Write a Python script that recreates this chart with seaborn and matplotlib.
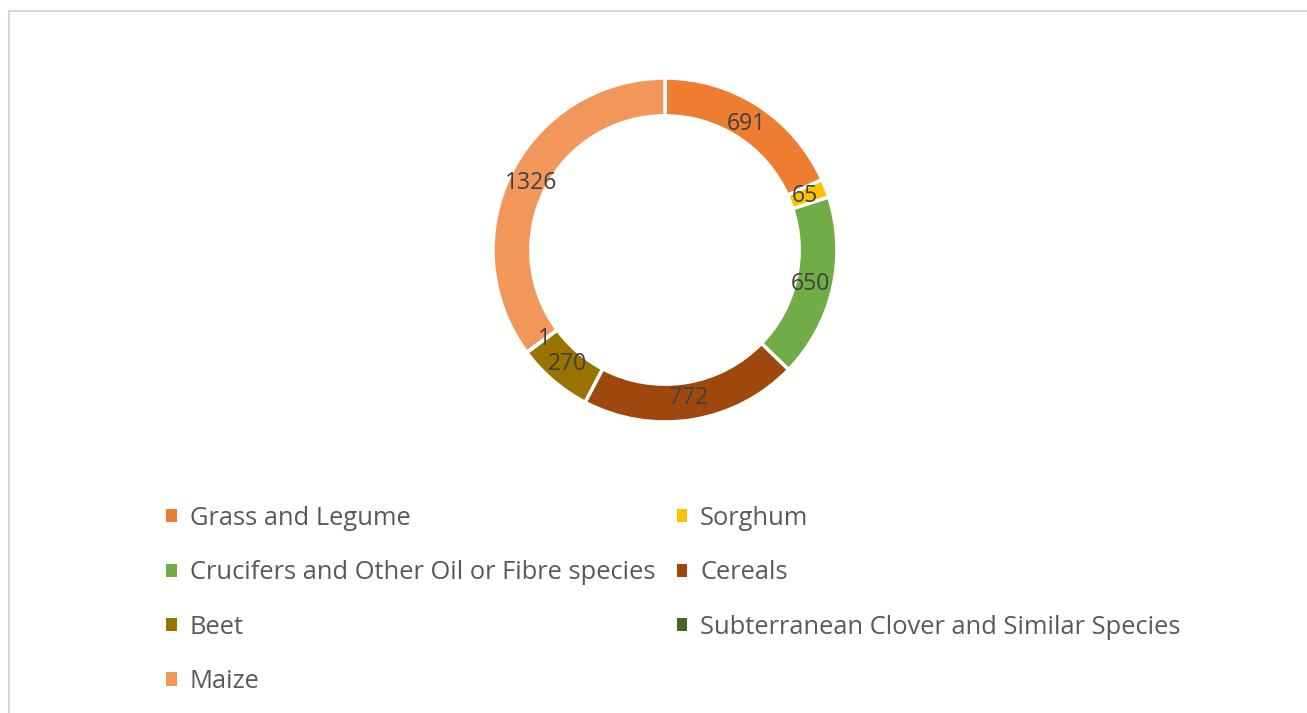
import matplotlib
matplotlib.use("Agg")
import matplotlib.pyplot as plt
from matplotlib.patches import Patch, Rectangle
import seaborn as sns

categories = ["Grass and Legume", "Sorghum", "Crucifers and Other Oil or Fibre species",
              "Cereals", "Beet", "Subterranean Clover and Similar Species", "Maize"]
values = [691, 65, 650, 772, 270, 1, 1326]
colors = ["#ED7D31", "#FFC000", "#70AD47", "#9E480E", "#997300", "#43682B", "#F1975A"]

sns.set_theme(style="white")
plt.rcParams['font.family'] = ['Open Sans', 'DejaVu Sans']

W, H = 1307, 713
fig = plt.figure(figsize=(W / 100, H / 100), dpi=100)
fig.patch.set_facecolor("white")

# outer frame (partially visible)
fig.patches.append(Rectangle((9 / W, -0.1), 1.2, (H - 11) / H + 0.1, transform=fig.transFigure,
                             fill=False, edgecolor="#d9d9d9", linewidth=1.5))

cx, cy, r = 665, 250, 172
ax = fig.add_axes([(cx - r) / W, (H - cy - r) / H, 2 * r / W, 2 * r / H])
total = sum(values)
wedges, texts, autotexts = ax.pie(
    values, colors=colors, startangle=90, counterclock=False, radius=1,
    wedgeprops=dict(width=0.22, edgecolor="white", linewidth=2.5),
    autopct=lambda p: f"{round(p * total / 100)}", pctdistance=0.87,
    textprops=dict(color="#404040", fontsize=16.5))
ax.set_xlim(-1, 1)
ax.set_ylim(-1, 1)
ax.set_aspect("equal")
ax.axis("off")

order = [0, 2, 4, 6, 1, 3, 5]
handles = [Patch(facecolor=colors[i], edgecolor="none") for i in order]
labels = [categories[i] for i in order]
leg = fig.legend(handles, labels, ncol=2, loc="upper left",
                 bbox_to_anchor=(166 / W, 1 - 506 / H), frameon=False,
                 borderpad=0, borderaxespad=0,
                 fontsize=18.4, labelcolor="#595959", handlelength=0.42, handleheight=0.42,
                 handletextpad=0.5, labelspacing=1.15, columnspacing=0.85)

fig.savefig("out.png", dpi=100, facecolor="white")
